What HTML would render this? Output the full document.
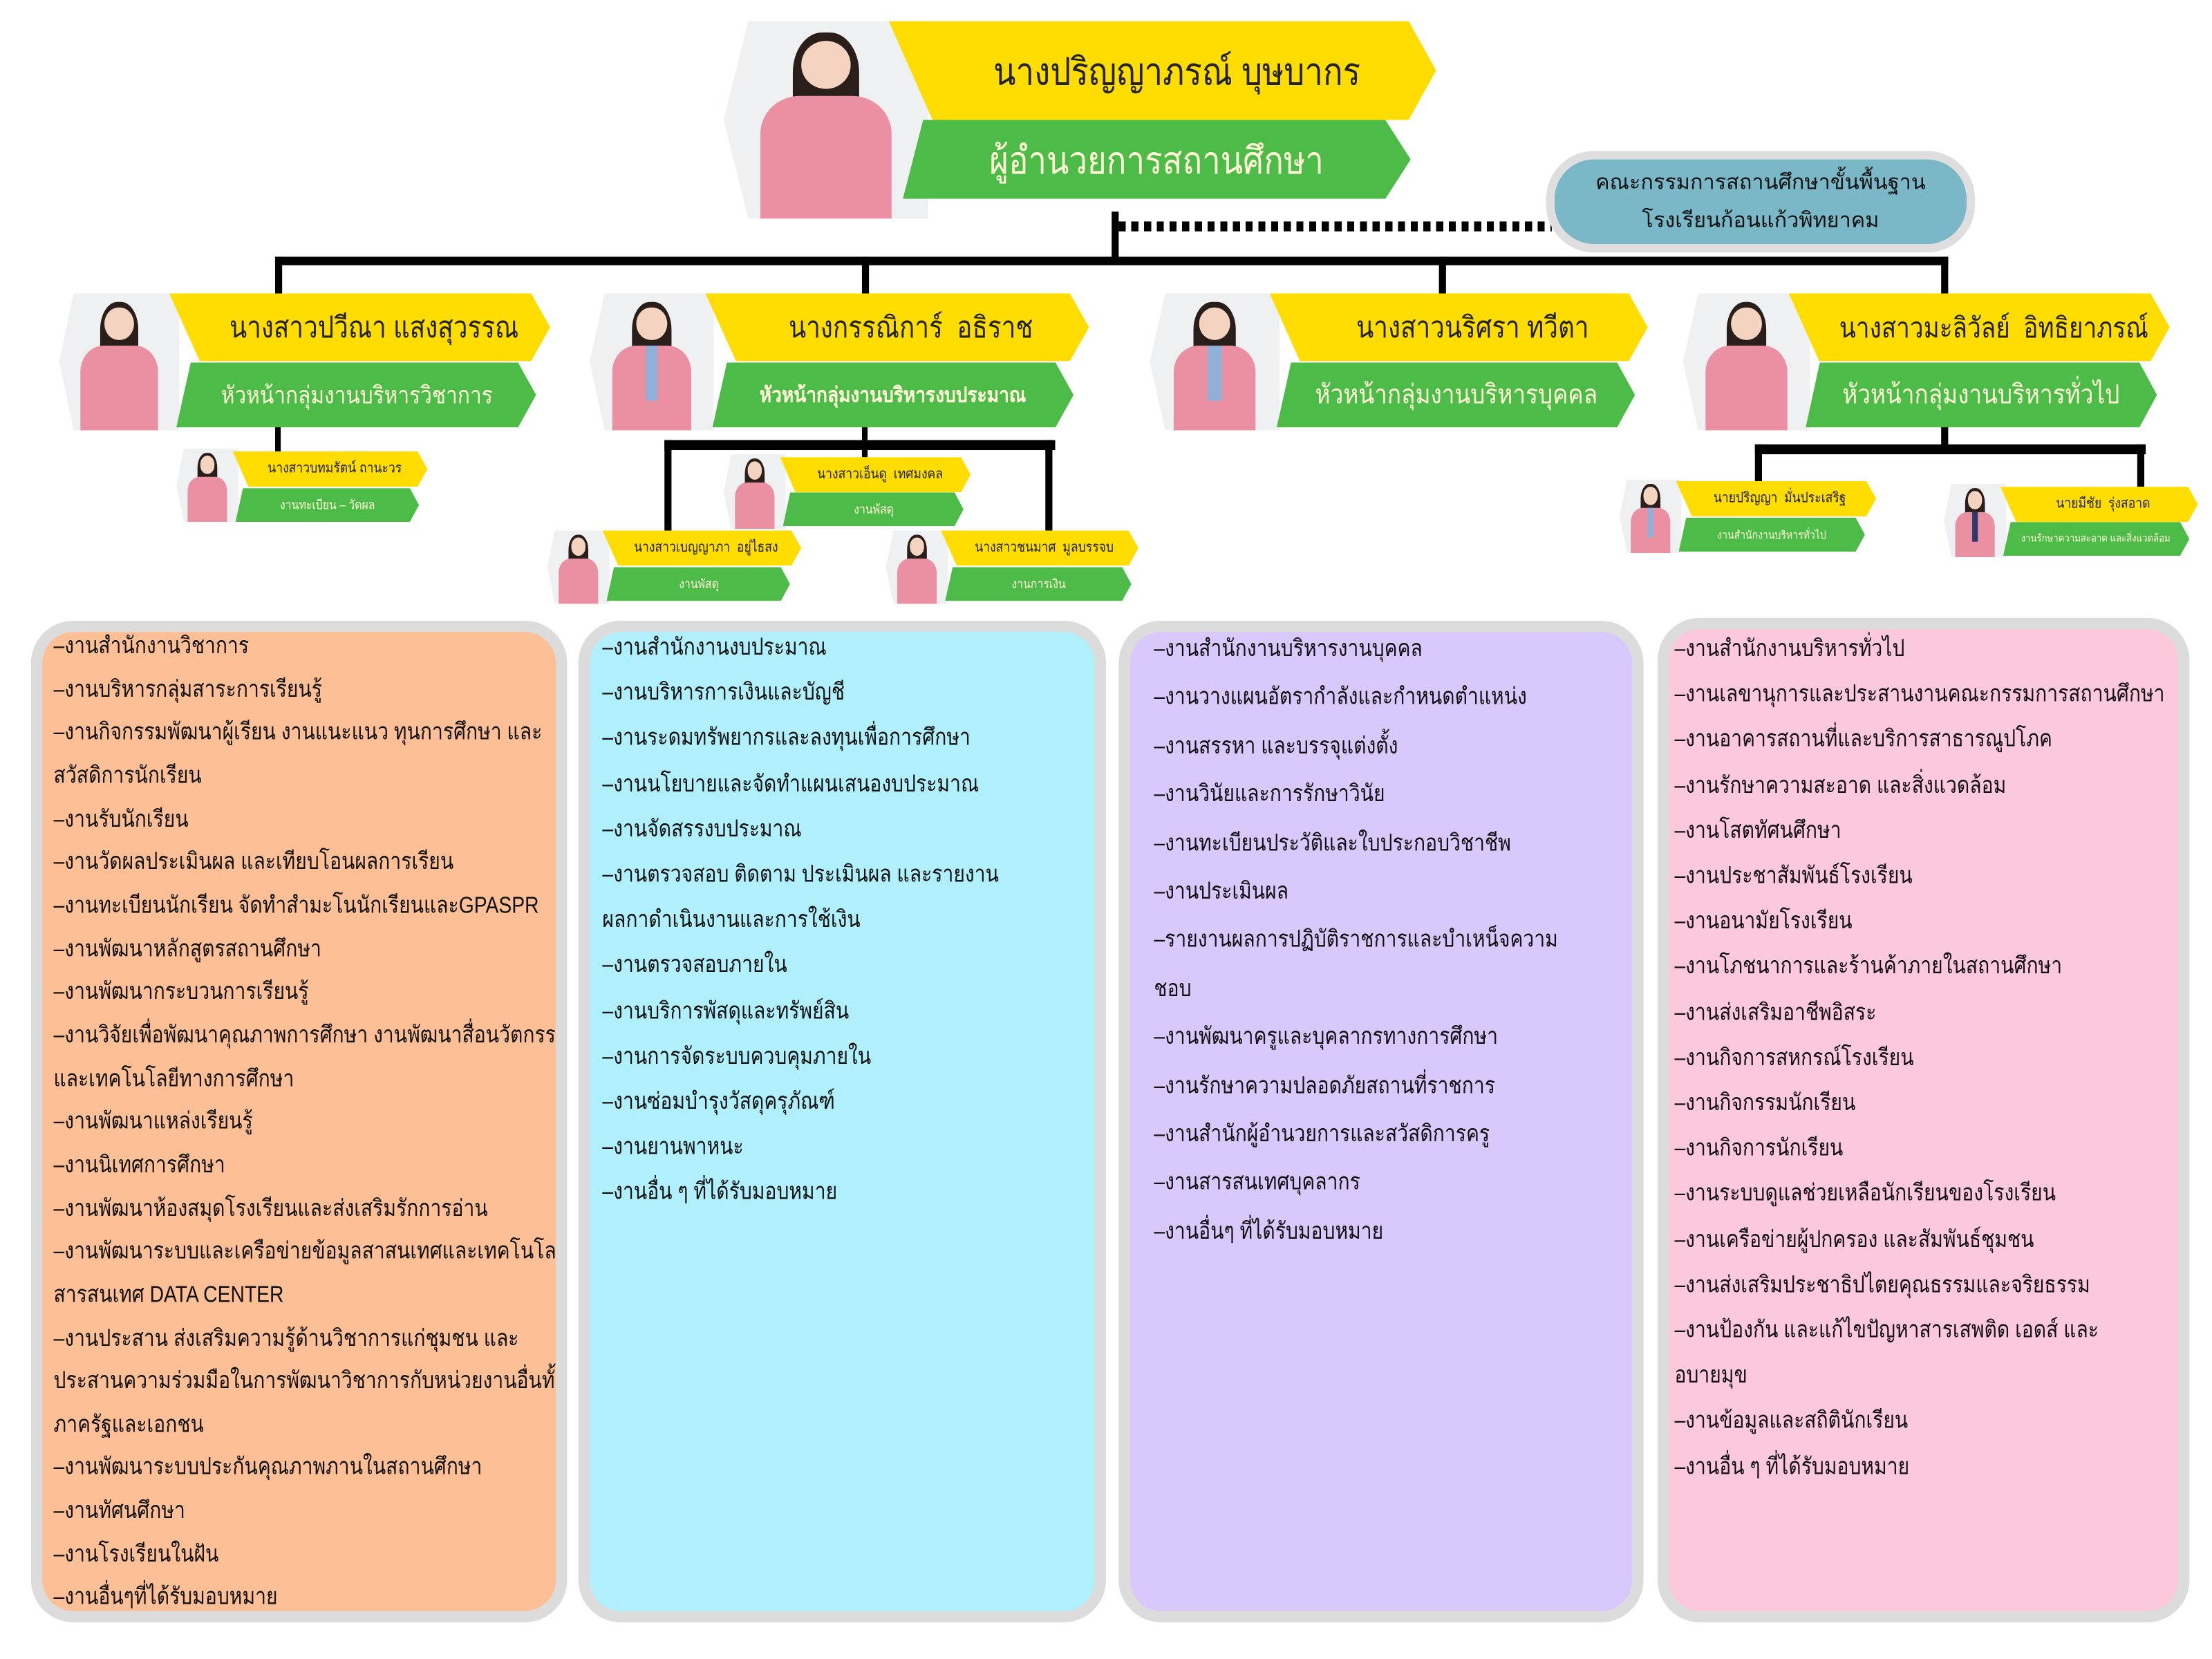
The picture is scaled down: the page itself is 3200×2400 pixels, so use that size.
<!DOCTYPE html>
<html><head><meta charset="utf-8">
<style>
*{margin:0;padding:0;box-sizing:border-box}
html,body{width:3200px;height:2400px;overflow:hidden;background:#fff}
#w{position:absolute;left:0;top:0;width:1568px;height:1176px;transform:scale(2.04082);transform-origin:0 0;font-family:"Liberation Sans",sans-serif}
.a{position:absolute}
.ln{position:absolute;background:#000}
.y{position:absolute;background:#ffdd00;clip-path:polygon(0 0,95% 0,100% 50%,95% 100%,8% 100%);display:flex;align-items:center;justify-content:center;color:#222;white-space:nowrap}
.g{position:absolute;background:#4dbb48;clip-path:polygon(4% 0,95% 0,100% 50%,95% 100%,0 100%);display:flex;align-items:center;justify-content:center;color:#fff9d8;white-space:nowrap}
.y span,.g span{display:inline-block;transform:scaleX(.86)}
.ph{position:absolute;background:#eef0f2;clip-path:polygon(12% 0,100% 0,100% 100%,12% 100%,0 50%);overflow:hidden}
.ph .hair{position:absolute;left:34%;top:6%;width:32%;height:45%;background:#2a1e1a;border-radius:45% 45% 10% 10%}
.ph .face{position:absolute;left:38%;top:10%;width:24%;height:24%;background:#f4d3c0;border-radius:50%}
.ph .body{position:absolute;left:18%;top:38%;width:64%;height:64%;background:#eb8fa3;border-radius:30% 30% 0 0}
.ph .sh{position:absolute;left:45%;top:38%;width:10%;height:40%;background:#8fb0d8}
.p{position:absolute;border:8px solid #dcdcdc;border-radius:30px;overflow:hidden}
.p div{white-space:nowrap;font-size:16.5px;color:#111;transform:scaleX(.84);transform-origin:0 0}
</style></head><body><div id="w">

<div class="ln" style="left:788px;top:150px;width:5px;height:36px"></div>
<div class="a" style="left:793px;top:157px;width:307px;height:7px;background:repeating-linear-gradient(90deg,#000 0 5px,transparent 5px 9px)"></div>
<div class="ln" style="left:195px;top:182px;width:1186px;height:6px"></div>
<div class="ln" style="left:195px;top:182px;width:5px;height:28px"></div>
<div class="ln" style="left:611px;top:182px;width:5px;height:28px"></div>
<div class="ln" style="left:1020px;top:182px;width:5px;height:28px"></div>
<div class="ln" style="left:1376px;top:182px;width:5px;height:28px"></div>

<div class="ln" style="left:195px;top:300px;width:4px;height:22px"></div>
<div class="ln" style="left:611px;top:300px;width:4px;height:24px"></div>
<div class="ln" style="left:471px;top:312px;width:277px;height:7px"></div>
<div class="ln" style="left:471px;top:312px;width:5px;height:66px"></div>
<div class="ln" style="left:741px;top:312px;width:5px;height:66px"></div>
<div class="ln" style="left:1376px;top:300px;width:5px;height:18px"></div>
<div class="ln" style="left:1244px;top:315px;width:277px;height:7px"></div>
<div class="ln" style="left:1244px;top:315px;width:5px;height:28px"></div>
<div class="ln" style="left:1515px;top:315px;width:5px;height:30px"></div>

<div class="ph" style="left:513px;top:15px;width:145px;height:140px"><div class="hair"></div><div class="face"></div><div class="body"></div></div>
<div class="y" style="left:630px;top:15px;width:388px;height:70px;font-size:27px;padding-left:20px"><span>นางปริญญาภรณ์ บุษบากร</span></div>
<div class="g" style="left:640px;top:85px;width:360px;height:56px;font-size:27px"><span>ผู้อำนวยการสถานศึกษา</span></div>

<div class="a" style="left:1096px;top:107px;width:304px;height:72px;border:6px solid #dedede;border-radius:34px;background:#7ab8c8;display:flex;flex-direction:column;align-items:center;justify-content:center;font-size:15px;color:#111;line-height:27px">
<span>คณะกรรมการสถานศึกษาขั้นพื้นฐาน</span><span>โรงเรียนก้อนแก้วพิทยาคม</span></div>

<div class="ph" style="left:42px;top:208px;width:85px;height:97px"><div class="hair"></div><div class="face"></div><div class="body"></div></div>
<div class="y" style="left:120px;top:208px;width:270px;height:48px;font-size:21px;padding-left:20px"><span>นางสาวปวีณา แสงสุวรรณ</span></div>
<div class="g" style="left:125px;top:257px;width:255px;height:46px;font-size:17px"><span>หัวหน้ากลุ่มงานบริหารวิชาการ</span></div>

<div class="ph" style="left:418px;top:208px;width:88px;height:97px"><div class="hair"></div><div class="face"></div><div class="body"></div><div class="sh"></div></div>
<div class="y" style="left:500px;top:208px;width:272px;height:48px;font-size:21px;padding-left:20px"><span>นางกรรณิการ์&nbsp; อธิราช</span></div>
<div class="g" style="left:505px;top:257px;width:256px;height:46px;font-size:15px;font-weight:bold"><span>หัวหน้ากลุ่มงานบริหารงบประมาณ</span></div>

<div class="ph" style="left:815px;top:208px;width:92px;height:97px"><div class="hair"></div><div class="face"></div><div class="body"></div><div class="sh"></div></div>
<div class="y" style="left:900px;top:208px;width:268px;height:48px;font-size:21px;padding-left:20px"><span>นางสาวนริศรา ทวีตา</span></div>
<div class="g" style="left:905px;top:257px;width:254px;height:46px;font-size:19px"><span>หัวหน้ากลุ่มงานบริหารบุคคล</span></div>

<div class="ph" style="left:1193px;top:208px;width:90px;height:97px"><div class="hair"></div><div class="face"></div><div class="body"></div></div>
<div class="y" style="left:1268px;top:208px;width:270px;height:48px;font-size:20px;padding-left:20px"><span>นางสาวมะลิวัลย์&nbsp; อิทธิยาภรณ์</span></div>
<div class="g" style="left:1280px;top:257px;width:249px;height:46px;font-size:19px"><span>หัวหน้ากลุ่มงานบริหารทั่วไป</span></div>

<div class="ph" style="left:125px;top:318px;width:44px;height:52px"><div class="hair"></div><div class="face"></div><div class="body"></div></div>
<div class="y" style="left:165px;top:320px;width:138px;height:25px;font-size:10px;padding-left:6px"><span>นางสาวบทมรัตน์ ถานะวร</span></div>
<div class="g" style="left:167px;top:346px;width:130px;height:24px;font-size:9px"><span>งานทะเบียน – วัดผล</span></div>

<div class="ph" style="left:513px;top:322px;width:44px;height:53px"><div class="hair"></div><div class="face"></div><div class="body"></div></div>
<div class="y" style="left:553px;top:324px;width:135px;height:25px;font-size:10px;padding-left:6px"><span>นางสาวเอ็นดู&nbsp; เทศมงคล</span></div>
<div class="g" style="left:555px;top:349px;width:128px;height:24px;font-size:9px"><span>งานพัสดุ</span></div>

<div class="ph" style="left:388px;top:376px;width:44px;height:52px"><div class="hair"></div><div class="face"></div><div class="body"></div></div>
<div class="y" style="left:427px;top:376px;width:141px;height:25px;font-size:10px;padding-left:6px"><span>นางสาวเบญญาภา&nbsp; อยู่ไธสง</span></div>
<div class="g" style="left:430px;top:402px;width:130px;height:24px;font-size:9px"><span>งานพัสดุ</span></div>

<div class="ph" style="left:628px;top:376px;width:44px;height:52px"><div class="hair"></div><div class="face"></div><div class="body"></div></div>
<div class="y" style="left:667px;top:376px;width:140px;height:25px;font-size:10px;padding-left:6px"><span>นางสาวชนมาศ&nbsp; มูลบรรจบ</span></div>
<div class="g" style="left:670px;top:402px;width:132px;height:24px;font-size:9px"><span>งานการเงิน</span></div>

<div class="ph" style="left:1148px;top:340px;width:44px;height:52px"><div class="hair"></div><div class="face"></div><div class="body"></div><div class="sh"></div></div>
<div class="y" style="left:1188px;top:341px;width:142px;height:25px;font-size:10px;padding-left:6px"><span>นายปริญญา&nbsp; มั่นประเสริฐ</span></div>
<div class="g" style="left:1190px;top:367px;width:132px;height:24px;font-size:8px"><span>งานสำนักงานบริหารทั่วไป</span></div>

<div class="ph" style="left:1378px;top:343px;width:44px;height:52px"><div class="hair"></div><div class="face"></div><div class="body"></div><div class="sh" style="background:#2a3a6a"></div></div>
<div class="y" style="left:1418px;top:345px;width:140px;height:25px;font-size:10px;padding-left:6px"><span>นายมีชัย&nbsp; รุ่งสอาด</span></div>
<div class="g" style="left:1420px;top:370px;width:132px;height:24px;font-size:7.5px"><span>งานรักษาความสะอาด และสิ่งแวดล้อม</span></div>

<div class="p" style="left:22px;top:440px;width:380px;height:710px;background:#fcbf96;padding:0 0 0 8px;line-height:30.65px;padding-top:0">
<div style="margin-top:-5px">–งานสำนักงานวิชาการ</div><div>–งานบริหารกลุ่มสาระการเรียนรู้</div><div>–งานกิจกรรมพัฒนาผู้เรียน งานแนะแนว ทุนการศึกษา และ</div><div>สวัสดิการนักเรียน</div><div>–งานรับนักเรียน</div><div>–งานวัดผลประเมินผล และเทียบโอนผลการเรียน</div><div>–งานทะเบียนนักเรียน จัดทำสำมะโนนักเรียนและGPASPR</div><div>–งานพัฒนาหลักสูตรสถานศึกษา</div><div>–งานพัฒนากระบวนการเรียนรู้</div><div>–งานวิจัยเพื่อพัฒนาคุณภาพการศึกษา งานพัฒนาสื่อนวัตกรรม</div><div>และเทคโนโลยีทางการศึกษา</div><div>–งานพัฒนาแหล่งเรียนรู้</div><div>–งานนิเทศการศึกษา</div><div>–งานพัฒนาห้องสมุดโรงเรียนและส่งเสริมรักการอ่าน</div><div>–งานพัฒนาระบบและเครือข่ายข้อมูลสาสนเทศและเทคโนโลยี</div><div>สารสนเทศ DATA CENTER</div><div>–งานประสาน ส่งเสริมความรู้ด้านวิชาการแก่ชุมชน และ</div><div>ประสานความร่วมมือในการพัฒนาวิชาการกับหน่วยงานอื่นทั้ง</div><div>ภาครัฐและเอกชน</div><div>–งานพัฒนาระบบประกันคุณภาพภานในสถานศึกษา</div><div>–งานทัศนศึกษา</div><div>–งานโรงเรียนในฝัน</div><div>–งานอื่นๆที่ได้รับมอบหมาย</div>
</div>

<div class="p" style="left:410px;top:440px;width:374px;height:710px;background:#b0f0fc;padding:0 0 0 9px;line-height:32.2px">
<div style="margin-top:-5px">–งานสำนักงานงบประมาณ</div><div>–งานบริหารการเงินและบัญชี</div><div>–งานระดมทรัพยากรและลงทุนเพื่อการศึกษา</div><div>–งานนโยบายและจัดทำแผนเสนองบประมาณ</div><div>–งานจัดสรรงบประมาณ</div><div>–งานตรวจสอบ ติดตาม ประเมินผล และรายงาน</div><div>ผลกาดำเนินงานและการใช้เงิน</div><div>–งานตรวจสอบภายใน</div><div>–งานบริการพัสดุและทรัพย์สิน</div><div>–งานการจัดระบบควบคุมภายใน</div><div>–งานซ่อมบำรุงวัสดุครุภัณฑ์</div><div>–งานยานพาหนะ</div><div>–งานอื่น ๆ ที่ได้รับมอบหมาย</div>
</div>

<div class="p" style="left:793px;top:440px;width:372px;height:710px;background:#d9c8fc;padding:0 0 0 17px;line-height:34.4px">
<div style="margin-top:-5px">–งานสำนักงานบริหารงานบุคคล</div><div>–งานวางแผนอัตรากำลังและกำหนดตำแหน่ง</div><div>–งานสรรหา และบรรจุแต่งตั้ง</div><div>–งานวินัยและการรักษาวินัย</div><div>–งานทะเบียนประวัติและใบประกอบวิชาชีพ</div><div>–งานประเมินผล</div><div>–รายงานผลการปฏิบัติราชการและบำเหน็จความ</div><div>ชอบ</div><div>–งานพัฒนาครูและบุคลากรทางการศึกษา</div><div>–งานรักษาความปลอดภัยสถานที่ราชการ</div><div>–งานสำนักผู้อำนวยการและสวัสดิการครู</div><div>–งานสารสนเทศบุคลากร</div><div>–งานอื่นๆ ที่ได้รับมอบหมาย</div>
</div>

<div class="p" style="left:1175px;top:438px;width:377px;height:712px;background:#fcc8dc;padding:0 0 0 4px;line-height:32.2px">
<div style="margin-top:-2px">–งานสำนักงานบริหารทั่วไป</div><div>–งานเลขานุการและประสานงานคณะกรรมการสถานศึกษา</div><div>–งานอาคารสถานที่และบริการสาธารณูปโภค</div><div>–งานรักษาความสะอาด และสิ่งแวดล้อม</div><div>–งานโสตทัศนศึกษา</div><div>–งานประชาสัมพันธ์โรงเรียน</div><div>–งานอนามัยโรงเรียน</div><div>–งานโภชนาการและร้านค้าภายในสถานศึกษา</div><div>–งานส่งเสริมอาชีพอิสระ</div><div>–งานกิจการสหกรณ์โรงเรียน</div><div>–งานกิจกรรมนักเรียน</div><div>–งานกิจการนักเรียน</div><div>–งานระบบดูแลช่วยเหลือนักเรียนของโรงเรียน</div><div>–งานเครือข่ายผู้ปกครอง และสัมพันธ์ชุมชน</div><div>–งานส่งเสริมประชาธิปไตยคุณธรรมและจริยธรรม</div><div>–งานป้องกัน และแก้ไขปัญหาสารเสพติด เอดส์ และ</div><div>อบายมุข</div><div>–งานข้อมูลและสถิตินักเรียน</div><div>–งานอื่น ๆ ที่ได้รับมอบหมาย</div>
</div>

</div></body></html>
